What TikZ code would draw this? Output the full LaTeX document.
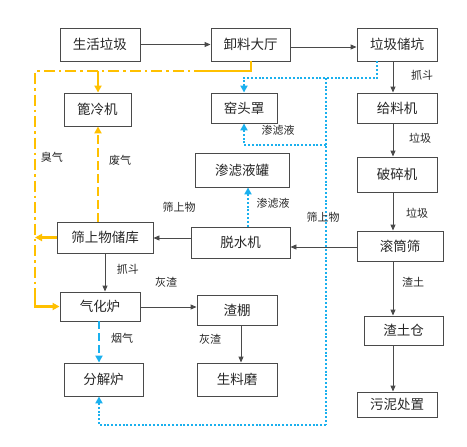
\documentclass[tikz,border=0pt]{standalone}
\usepackage{fontspec}
\setmainfont{Noto Sans CJK SC}
\usetikzlibrary{arrows.meta}
\definecolor{flowgray}{HTML}{4A4A4A}
\definecolor{gasorange}{HTML}{FFC000}
\definecolor{liqblue}{HTML}{1AB0EE}
\tikzset{
  box/.style={draw=flowgray, line width=0.9pt, inner sep=0pt, text=black!85,
    font=\fontsize{13.5}{15}\selectfont},
  lbl/.style={text=black!85, font=\fontsize{11}{13}\selectfont},
  arr/.style={draw=flowgray, line width=0.9pt, -{Triangle[length=6pt,width=5pt]}},
  gas/.style={draw=gasorange, line width=2.4pt},
  gasarr/.style={gas, -{Triangle[length=7pt,width=7pt]}},
  liq/.style={draw=liqblue, line width=2.2pt, dash pattern=on 2pt off 1.8pt},
  liqarr/.style={liq, -{Triangle[length=7pt,width=7pt]}},
}
\begin{document}
\begin{tikzpicture}[x=1pt, y=-1pt]
  \useasboundingbox (0,0) rectangle (467,447);
  \def\xr{393}   % right column connectors
  \def\xo{35}    % orange collector on the left
  % boxes
  \node[box, minimum width=80pt, minimum height=33pt] (lj)  at (100,44.5)  {生活垃圾};
  \node[box, minimum width=79pt, minimum height=33pt] (xl)  at (250.5,44.5) {卸料大厅};
  \node[box, minimum width=80pt, minimum height=33pt] (ck)  at (397,44.5)  {垃圾储坑};
  \node[box, minimum width=67pt, minimum height=33pt] (bl)  at (97.5,109.5) {篦冷机};
  \node[box, minimum width=66pt, minimum height=30pt] (yt)  at (244,108)   {窑头罩};
  \node[box, minimum width=80pt, minimum height=30pt] (gl)  at (397,108)   {给料机};
  \node[box, minimum width=94pt, minimum height=34pt] (slg) at (242,170)   {渗滤液罐};
  \node[box, minimum width=80pt, minimum height=35pt] (ps)  at (397,174.5) {破碎机};
  \node[box, minimum width=99pt, minimum height=31pt] (tsj) at (240.5,242.5) {脱水机};
  \node[box, minimum width=86pt, minimum height=30pt] (gts) at (400,246)   {滚筒筛};
  \node[box, minimum width=96pt, minimum height=31pt] (ssk) at (105,237.5) {筛上物储库};
  \node[box, minimum width=80pt, minimum height=29pt] (qh)  at (100,306.5) {气化炉};
  \node[box, minimum width=80pt, minimum height=30pt] (zp)  at (237,310)   {渣棚};
  \node[box, minimum width=79pt, minimum height=29pt] (ztc) at (403.5,330.5) {渣土仓};
  \node[box, minimum width=79pt, minimum height=33pt] (fj)  at (103.5,379.5) {分解炉};
  \node[box, minimum width=80pt, minimum height=33pt] (slm) at (237,379.5) {生料磨};
  \node[box, minimum width=80pt, minimum height=25pt] (wn)  at (397,404.5) {污泥处置};
  % main material flow
  \draw[arr] (lj.east) -- (xl.west);
  \draw[arr] (xl.east |- 0,47) -- (ck.west |- 0,47);
  \draw[arr] (\xr,0 |- ck.south) -- (\xr,0 |- gl.north);
  \draw[arr] (\xr,0 |- gl.south) -- (\xr,0 |- ps.north);
  \draw[arr] (\xr,0 |- ps.south) -- (\xr,0 |- gts.north);
  \draw[arr] (\xr,0 |- gts.south) -- (\xr,0 |- ztc.north);
  \draw[arr] (\xr,0 |- ztc.south) -- (\xr,0 |- wn.north);
  \draw[arr] (gts.west |- 0,247) -- (tsj.east |- 0,247);
  \draw[arr] (tsj.west |- 0,238) -- (ssk.east |- 0,238);
  \draw[arr] (ssk.south) -- (qh.north -| ssk.south);
  \draw[arr] (qh.east |- 0,307) -- (zp.west |- 0,307);
  \draw[arr] (241,0 |- zp.south) -- (241,0 |- slm.north);
  % gas lines (orange)
  \coordinate (gtop) at (\xo,71);
  \coordinate (gbot) at (\xo,306.5);
  \draw[gas] (251,0 |- xl.south) -- (251,71) -- (205,71);
  \draw[gas, dash pattern=on 11pt off 4pt on 2.5pt off 4pt] (205,71) -- (gtop) -- (\xo,292);
  \draw[gasarr] (\xo,292) -- (gbot) -- (qh.west);
  \draw[gasarr] (98,71) -- (98,0 |- bl.north);
  \draw[gasarr, dash pattern=on 9pt off 4pt] (98,0 |- ssk.north) -- (98,0 |- bl.south);
  \draw[gasarr] (ssk.west) -- (ssk.west -| gtop);
  % leachate lines (blue)
  \coordinate (ltop) at (326,78);
  \coordinate (lmid) at (326,145);
  \coordinate (lbot) at (326,425);
  \draw[liqarr] (377,0 |- ck.south) -- (377,78) -- (244,78) -- (yt.north);
  \draw[liq] (ltop) -- (lbot);
  \draw[liqarr] (lbot) -- (99,425) -- (99,0 |- fj.south);
  \draw[liqarr] (lmid) -- (244,145) -- (yt.south);
  \draw[liqarr] (248,0 |- tsj.north) -- (248,0 |- slg.south);
  \draw[liqarr, dash pattern=on 8pt off 4pt] (99,0 |- qh.south) -- (99,0 |- fj.north);
  % labels
  \node[lbl] (l1)  at (422,75)  {抓斗};
  \node[lbl] (l2)  at (420,138) {垃圾};
  \node[lbl] (l3)  at (417,213) {垃圾};
  \node[lbl] (l4)  at (413,282) {渣土};
  \node[lbl] (l5)  at (278,130) {渗滤液};
  \node[lbl] (l6)  at (273,203) {渗滤液};
  \node[lbl] (l7)  at (323,217) {筛上物};
  \node[lbl] (l8)  at (179,207) {筛上物};
  \node[lbl] (l9)  at (52,157)  {臭气};
  \node[lbl] (l10) at (120,160) {废气};
  \node[lbl] (l11) at (128,269) {抓斗};
  \node[lbl] (l12) at (166,282) {灰渣};
  \node[lbl] (l13) at (122,338) {烟气};
  \node[lbl] (l14) at (210,339) {灰渣};
\end{tikzpicture}
\end{document}
